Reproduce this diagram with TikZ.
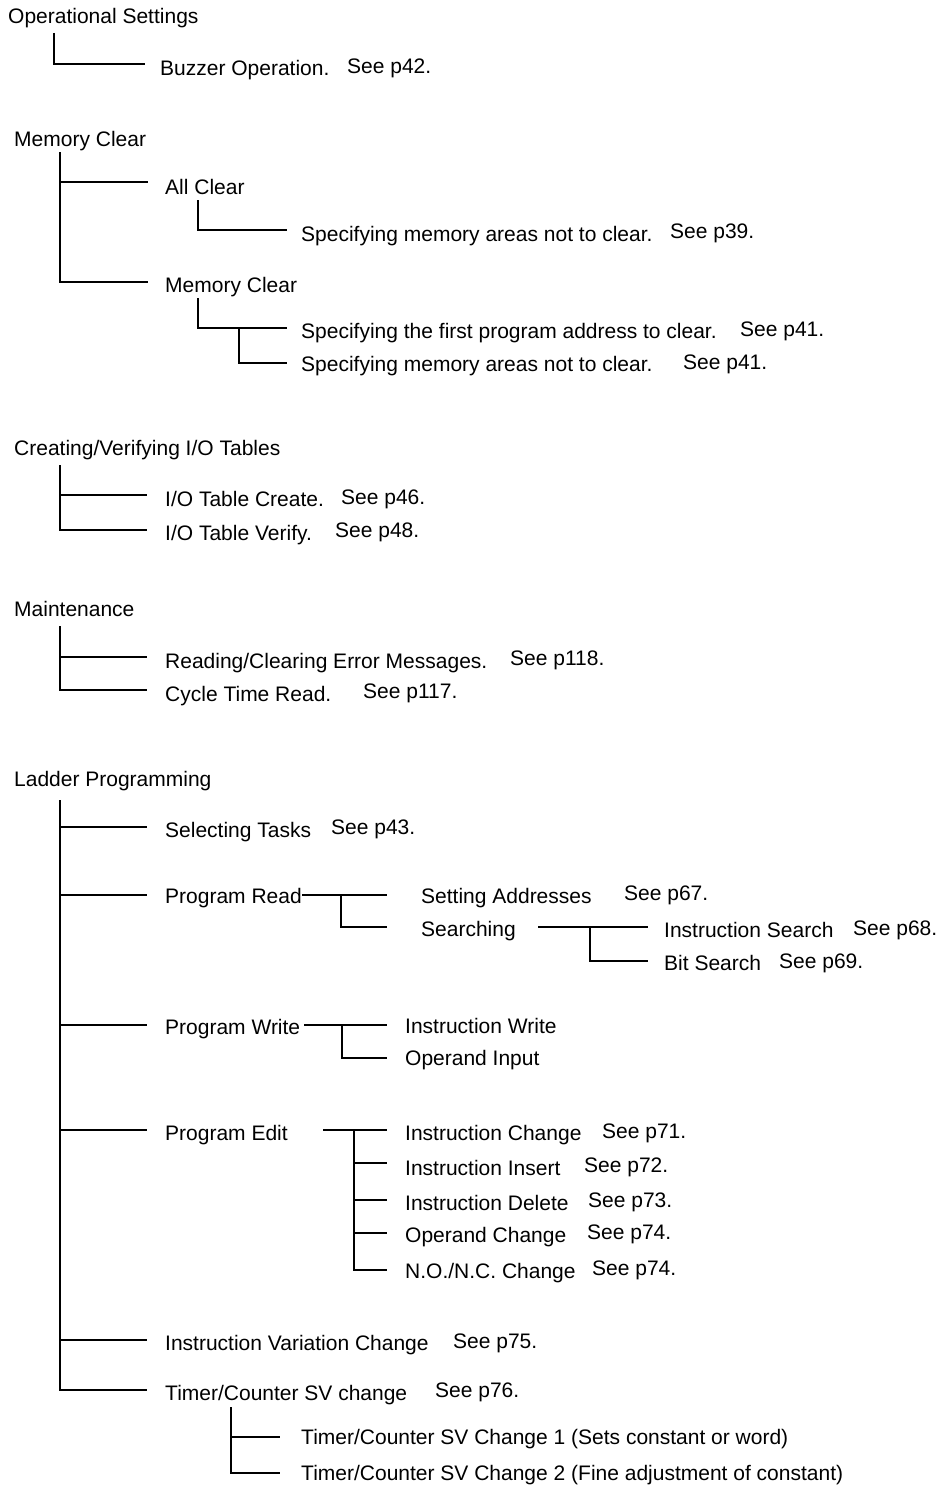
\documentclass[tikz,border=0pt]{standalone}
\usepackage{fontspec}
\setmainfont{Liberation Sans}
\begin{document}
\begin{tikzpicture}[x=1pt,y=-1pt,
  txt/.style={anchor=base west, inner sep=0pt, font=\fontsize{21}{25}\selectfont},
  ln/.style={line width=1.1pt, line cap=butt, line join=miter}]
\useasboundingbox (0,0) rectangle (940,1488);

% ---------- Operational Settings ----------
\node[txt] (os) at (8,24) {Operational Settings};
\node[txt] (bz) at (160,76) {Buzzer Operation.};
\node[txt] (s42) at (347,74) {See p42.};
\coordinate (osS) at (54,33);
\coordinate (bzE) at (145,64);
\draw[ln] (osS) |- (bzE);

% ---------- Memory Clear ----------
\node[txt] (mc) at (14,146) {Memory Clear};
\node[txt] (ac) at (165,194) {All Clear};
\node[txt] (sm1) at (301,241) {Specifying memory areas not to clear.};
\node[txt] (s39) at (670,238) {See p39.};
\node[txt] (mc2) at (165,292) {Memory Clear};
\node[txt] (spf) at (301,338) {Specifying the first program address to clear.};
\node[txt] (s41a) at (740,336) {See p41.};
\node[txt] (sm2) at (301,371) {Specifying memory areas not to clear.};
\node[txt] (s41b) at (683,369) {See p41.};
\coordinate (mcS) at (60,152);
\coordinate (acE) at (148,182);
\coordinate (mc2E) at (148,282);
\draw[ln] (mcS) |- (mc2E);
\draw[ln] (mcS |- acE) -- (acE);
\coordinate (acS) at (198,200);
\coordinate (sm1E) at (287,230);
\draw[ln] (acS) |- (sm1E);
\coordinate (mc2S) at (198,298);
\coordinate (spfE) at (287,328);
\coordinate (sm2S) at (239,328);
\coordinate (sm2E) at (287,363);
\draw[ln] (mc2S) |- (spfE);
\draw[ln] (sm2S) |- (sm2E);

% ---------- Creating/Verifying I/O Tables ----------
\node[txt] (cv) at (14,455) {Creating/Verifying I/O Tables};
\node[txt] (ioc) at (165,506) {I/O Table Create.};
\node[txt] (s46) at (341,504) {See p46.};
\node[txt] (iov) at (165,540) {I/O Table Verify.};
\node[txt] (s48) at (335,537) {See p48.};
\coordinate (cvS) at (60,465);
\coordinate (iocE) at (147,495);
\coordinate (iovE) at (147,530);
\draw[ln] (cvS) |- (iovE);
\draw[ln] (cvS |- iocE) -- (iocE);

% ---------- Maintenance ----------
\node[txt] (mt) at (14,616) {Maintenance};
\node[txt] (rc) at (165,668) {Reading/Clearing Error Messages.};
\node[txt] (s118) at (510,665) {See p118.};
\node[txt] (ct) at (165,701) {Cycle Time Read.};
\node[txt] (s117) at (363,698) {See p117.};
\coordinate (mtS) at (60,626);
\coordinate (rcE) at (147,657);
\coordinate (ctE) at (147,690);
\draw[ln] (mtS) |- (ctE);
\draw[ln] (mtS |- rcE) -- (rcE);

% ---------- Ladder Programming ----------
\node[txt] (lp) at (14,786) {Ladder Programming};
\node[txt] (st) at (165,837) {Selecting Tasks};
\node[txt] (s43) at (331,834) {See p43.};
\node[txt] (pr) at (165,903) {Program Read};
\node[txt] (sa) at (421,903) {Setting Addresses};
\node[txt] (s67) at (624,900) {See p67.};
\node[txt] (se) at (421,936) {Searching};
\node[txt] (is) at (664,937) {Instruction Search};
\node[txt] (s68) at (853,935) {See p68.};
\node[txt] (bs) at (664,970) {Bit Search};
\node[txt] (s69) at (779,968) {See p69.};
\node[txt] (pw) at (165,1034) {Program Write};
\node[txt] (iw) at (405,1033) {Instruction Write};
\node[txt] (oi) at (405,1065) {Operand Input};
\node[txt] (pe) at (165,1140) {Program Edit};
\node[txt] (ich) at (405,1140) {Instruction Change};
\node[txt] (s71) at (602,1138) {See p71.};
\node[txt] (iin) at (405,1175) {Instruction Insert};
\node[txt] (s72) at (584,1172) {See p72.};
\node[txt] (ide) at (405,1210) {Instruction Delete};
\node[txt] (s73) at (588,1207) {See p73.};
\node[txt] (opc) at (405,1242) {Operand Change};
\node[txt] (s74a) at (587,1239) {See p74.};
\node[txt] (noc) at (405,1278) {N.O./N.C. Change};
\node[txt] (s74b) at (592,1275) {See p74.};
\node[txt] (ivc) at (165,1350) {Instruction Variation Change};
\node[txt] (s75) at (453,1348) {See p75.};
\node[txt] (tc) at (165,1400) {Timer/Counter SV change};
\node[txt] (s76) at (435,1397) {See p76.};
\node[txt] (t1) at (301,1444) {Timer/Counter SV Change 1 (Sets constant or word)};
\node[txt] (t2) at (301,1480) {Timer/Counter SV Change 2 (Fine adjustment of constant)};

\coordinate (lpS) at (60,800);
\coordinate (stE) at (147,827);
\coordinate (prE) at (147,895);
\coordinate (pwE) at (147,1025);
\coordinate (peE) at (147,1130);
\coordinate (ivcE) at (147,1340);
\coordinate (tcE) at (147,1390);
\draw[ln] (lpS) |- (tcE);
\foreach \e in {stE,prE,pwE,peE,ivcE} \draw[ln] (lpS |- \e) -- (\e);

% Program Read subtree
\coordinate (prO) at (302,895);
\coordinate (saE) at (387,895);
\coordinate (prJ) at (341,895);
\coordinate (seE) at (387,927);
\draw[ln] (prO) -- (saE);
\draw[ln] (prJ) |- (seE);
\coordinate (seO) at (538,927);
\coordinate (isE) at (648,927);
\coordinate (seJ) at (590,927);
\coordinate (bsE) at (648,961);
\draw[ln] (seO) -- (isE);
\draw[ln] (seJ) |- (bsE);

% Program Write subtree
\coordinate (pwO) at (304,1025);
\coordinate (iwE) at (387,1025);
\coordinate (pwJ) at (342,1025);
\coordinate (oiE) at (387,1058);
\draw[ln] (pwO) -- (iwE);
\draw[ln] (pwJ) |- (oiE);

% Program Edit subtree
\coordinate (peO) at (323,1130);
\coordinate (ichE) at (387,1130);
\coordinate (peJ) at (354,1130);
\coordinate (iinE) at (387,1163);
\coordinate (ideE) at (387,1200);
\coordinate (opcE) at (387,1233);
\coordinate (nocE) at (387,1270);
\draw[ln] (peO) -- (ichE);
\draw[ln] (peJ) |- (nocE);
\foreach \e in {iinE,ideE,opcE} \draw[ln] (peJ |- \e) -- (\e);

% Timer/Counter subtree
\coordinate (tcS) at (231,1407);
\coordinate (t1E) at (280,1437);
\coordinate (t2E) at (280,1473);
\draw[ln] (tcS) |- (t2E);
\draw[ln] (tcS |- t1E) -- (t1E);
\end{tikzpicture}
\end{document}
